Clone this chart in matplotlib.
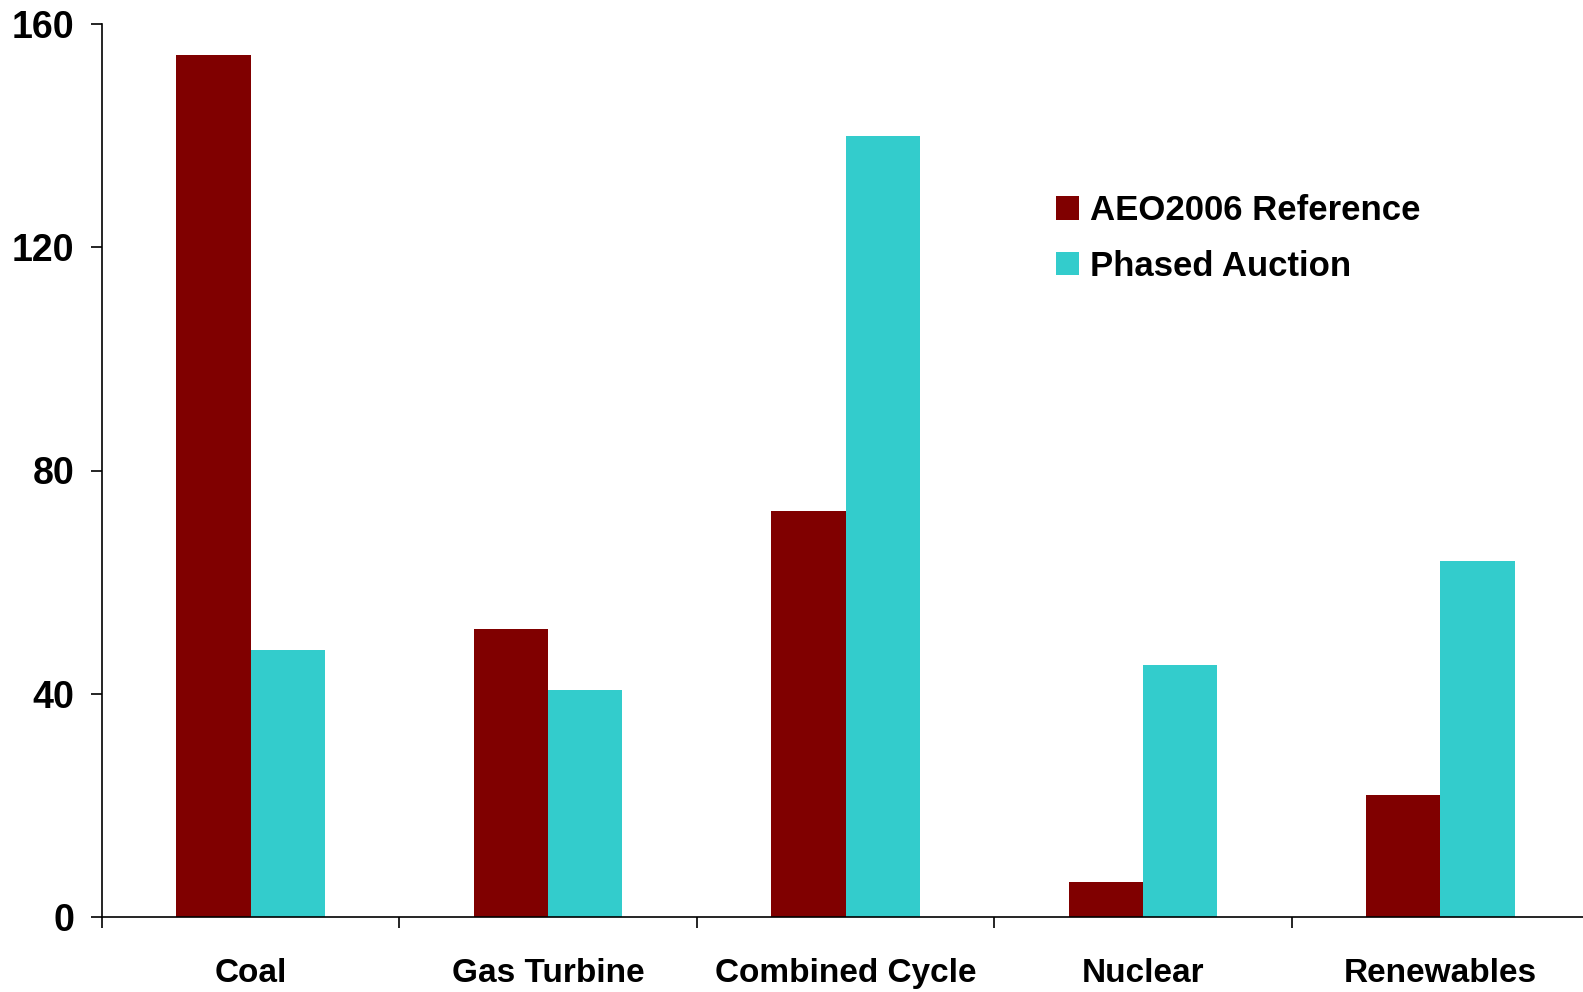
import matplotlib
matplotlib.use("Agg")
import matplotlib.pyplot as plt
import numpy as np

CATEGORIES = ["Coal", "Gas Turbine", "Combined Cycle", "Nuclear", "Renewables"]
AEO_REF = [154.5, 51.6, 72.7, 6.2, 21.8]
PHASED = [47.8, 40.6, 139.9, 45.2, 63.8]
SERIES = ["AEO2006 Reference", "Phased Auction"]
YTICKS = [0, 40, 80, 120, 160]

plt.rcParams.update({"font.family": ["Liberation Sans", "DejaVu Sans"],
                     "font.weight": "bold"})

W, H = 1583, 992
fig = plt.figure(figsize=(W / 100, H / 100), dpi=100)
ax = fig.add_axes([102 / W, 1 - 916.7 / H, (1589 - 102) / W, (916.7 - 24.3) / H])

x = np.arange(len(CATEGORIES))
w = 0.25
ax.bar(x - w / 2, AEO_REF, w, color="#800000", label=SERIES[0])
ax.bar(x + w / 2, PHASED, w, color="#33CCCC", label=SERIES[1])

ax.set_xlim(-0.5, len(CATEGORIES) - 0.5)
ax.set_ylim(0, 160)
ax.set_yticks(YTICKS)
ax.set_yticklabels([str(v) for v in YTICKS], fontsize=27, fontweight="bold")
ax.set_xticks(x)
ax.set_xticklabels(CATEGORIES, fontsize=24, fontweight="bold")
ax.set_xticks(np.arange(len(CATEGORIES) + 1) - 0.5, minor=True)
ax.tick_params(axis="x", which="major", length=0, pad=30)
ax.tick_params(axis="x", which="minor", length=8, width=1.2, direction="out")
ax.tick_params(axis="y", length=8, width=1.2, direction="out", pad=12)

for s in ["top", "right"]:
    ax.spines[s].set_visible(False)
for s in ["left", "bottom"]:
    ax.spines[s].set_linewidth(1.2)

ax.legend(frameon=False, loc="upper left",
          bbox_to_anchor=(1056 / W, 1 - 194 / H), bbox_transform=fig.transFigure,
          handlelength=0.67, handleheight=0.67, handletextpad=0.3,
          labelspacing=0.65, borderpad=0, borderaxespad=0,
          prop={"weight": "bold", "size": 25})

fig.savefig("out.png", dpi=100)
